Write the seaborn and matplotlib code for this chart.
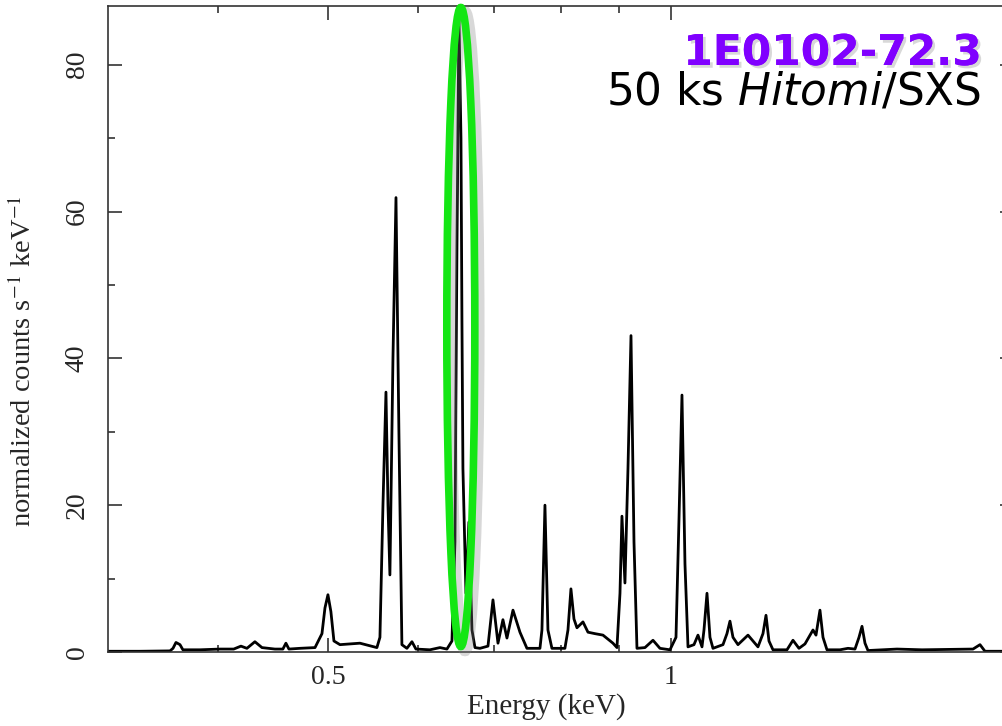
import numpy as np
import pandas as pd
import matplotlib
matplotlib.use("Agg")
import matplotlib.pyplot as plt
import matplotlib.patheffects as pe
from matplotlib.patches import Ellipse
from matplotlib.ticker import FixedLocator, FixedFormatter, NullFormatter
import seaborn as sns

# ---- data ----
energy_kev = [
    0.3206, 0.3420, 0.3634, 0.3656, 0.3678, 0.3708, 0.3730, 0.3861, 0.4020, 0.4133,
    0.4194, 0.4245, 0.4314, 0.4376, 0.4492, 0.4565, 0.4593, 0.4621, 0.4725, 0.4871,
    0.4940, 0.4970, 0.5000, 0.5030, 0.5061, 0.5123, 0.5334, 0.5520, 0.5554, 0.5588,
    0.5622, 0.5645, 0.5667, 0.5702, 0.5737, 0.5771, 0.5806, 0.5865, 0.5925, 0.5973,
    0.6144, 0.6270, 0.6359, 0.6424, 0.6463, 0.6489, 0.6515, 0.6542, 0.6555, 0.6568,
    0.6608, 0.6648, 0.6689, 0.6730, 0.6798, 0.6909, 0.6979, 0.7050, 0.7121, 0.7179,
    0.7267, 0.7370, 0.7475, 0.7674, 0.7705, 0.7752, 0.7799, 0.7862, 0.8071, 0.8121,
    0.8170, 0.8220, 0.8270, 0.8371, 0.8456, 0.8576, 0.8716, 0.8894, 0.8966, 0.9021,
    0.9057, 0.9112, 0.9168, 0.9224, 0.9280, 0.9336, 0.9488, 0.9643, 0.9780, 0.9980,
    1.0102, 1.0163, 1.0225, 1.0287, 1.0350, 1.0476, 1.0561, 1.0647, 1.0690, 1.0755,
    1.0820, 1.0886, 1.1108, 1.1198, 1.1266, 1.1335, 1.1450, 1.1684, 1.1922, 1.2043,
    1.2117, 1.2190, 1.2289, 1.2642, 1.2796, 1.2952, 1.3110, 1.3324, 1.3405, 1.3513,
    1.3596, 1.3706, 1.4071, 1.4300, 1.4504, 1.4622, 1.4711, 1.4800, 1.4890, 1.5789,
    1.6607, 1.7467, 1.8410, 1.8672, 1.8861, 2.0000,
]
norm_counts = [
    0.1, 0.1, 0.15, 0.5, 1.3, 1.0, 0.3, 0.3, 0.4, 0.4,
    0.8, 0.5, 1.4, 0.6, 0.4, 0.4, 1.2, 0.4, 0.5, 0.6,
    2.5, 6.0, 7.8, 5.5, 1.5, 1.0, 1.2, 0.6, 2.0, 20.0,
    35.4, 20.0, 10.5, 40.0, 61.9, 30.0, 1.0, 0.5, 1.4, 0.4,
    0.3, 0.6, 0.4, 1.5, 15.0, 55.0, 86.5, 70.0, 45.0, 25.0,
    8.0, 17.7, 3.0, 0.6, 0.5, 0.8, 7.1, 1.2, 4.4, 1.9,
    5.7, 2.7, 0.5, 0.5, 3.0, 20.0, 3.0, 0.5, 0.5, 3.0,
    8.6, 4.5, 3.3, 4.1, 2.7, 2.5, 2.3, 1.2, 0.6, 8.0,
    18.5, 9.4, 25.0, 43.1, 15.0, 0.5, 0.6, 1.6, 0.5, 0.3,
    2.0, 18.0, 35.0, 12.0, 0.7, 1.0, 2.3, 0.7, 3.0, 8.0,
    2.0, 0.5, 1.0, 2.5, 4.2, 2.0, 1.0, 2.3, 0.7, 2.5,
    5.0, 1.5, 0.3, 0.3, 1.6, 0.5, 1.1, 3.0, 2.3, 5.7,
    2.0, 0.3, 0.3, 0.5, 0.4, 2.0, 3.5, 1.2, 0.2, 0.4,
    0.3, 0.35, 0.4, 1.0, 0.1, 0.1,
]
x_major_ticks = [0.5, 1.0]
x_major_labels = ["0.5", "1"]
x_minor_ticks = [0.4, 0.6, 0.7, 0.8, 0.9, 2.0]
y_major_ticks = [0, 20, 40, 60, 80]
y_minor_ticks = [10, 30, 50, 70]
highlight_energy = 0.654
title_text = "1E0102-72.3"

df = pd.DataFrame({"energy": energy_kev, "counts": norm_counts})

sns.set_theme(style="ticks")
plt.rcParams["font.family"] = ["Liberation Serif", "DejaVu Sans"]

W, H = 1003, 726
fig = plt.figure(figsize=(W / 100, H / 100), dpi=100)
ax = fig.add_axes([108 / W, 1 - 652 / H, (1014 - 108) / W, (652 - 6) / H])

sns.lineplot(data=df, x="energy", y="counts", ax=ax, color="black",
             linewidth=2.0, estimator=None, sort=False)

ax.set_xscale("log")
ax.set_xlim(0.3206, 2.0)
ax.set_ylim(0, 88)

ax.xaxis.set_major_locator(FixedLocator(x_major_ticks))
ax.xaxis.set_major_formatter(FixedFormatter(x_major_labels))
ax.xaxis.set_minor_locator(FixedLocator(x_minor_ticks))
ax.xaxis.set_minor_formatter(NullFormatter())
ax.yaxis.set_major_locator(FixedLocator(y_major_ticks))
ax.yaxis.set_minor_locator(FixedLocator(y_minor_ticks))

for s in ax.spines.values():
    s.set_color("#333333")
    s.set_linewidth(1.2)
    s.set_visible(True)

ax.tick_params(which="both", direction="in", top=True, right=True,
               color="#333333", width=1.2)
ax.tick_params(which="major", length=10)
ax.tick_params(which="minor", length=5)
ax.tick_params(axis="x", which="major", labelsize=20, pad=9)
ax.tick_params(axis="y", which="major", labelsize=20, pad=13, labelrotation=90)
for lab in ax.get_yticklabels():
    lab.set_va("center")

ax.set_xlabel("Energy (keV)", fontsize=21)
ax.set_ylabel(r"normalized counts s$^{-1}$ keV$^{-1}$", fontsize=20.5,
              math_fontfamily="stix")
ax.xaxis.set_label_coords(0.484, -0.064)
ax.yaxis.set_label_coords(-0.078, 0.45)
ax.grid(False)

# highlight ellipse around the strongest line
fig.canvas.draw()
cx_disp, _ = ax.transData.transform((highlight_energy, 0))
ell = Ellipse((cx_disp / W, 1 - 327 / H), 28 / W, 639 / H,
              transform=fig.transFigure, fill=False, edgecolor="#14e614",
              linewidth=5.5, zorder=5, clip_on=False)
ell.set_path_effects([pe.SimpleLineShadow(offset=(3, -3), shadow_color="gray",
                                          alpha=0.3, linewidth=8),
                      pe.Normal()])
fig.add_artist(ell)

t1 = fig.text(982 / W, 1 - 65 / H, title_text, ha="right", va="baseline",
              fontsize=30.5, fontweight="bold", color="#8000ff",
              family="DejaVu Sans")
t1.set_path_effects([pe.withSimplePatchShadow(offset=(2, -2), shadow_rgbFace="gray", alpha=0.3),
                     pe.Normal()])
fig.text(981 / W, 1 - 104 / H, r"50 ks $\mathit{Hitomi}$/SXS", ha="right",
         va="baseline", fontsize=31.5, color="black", family="DejaVu Sans",
         math_fontfamily="dejavusans")

fig.savefig("out.png", dpi=100)
